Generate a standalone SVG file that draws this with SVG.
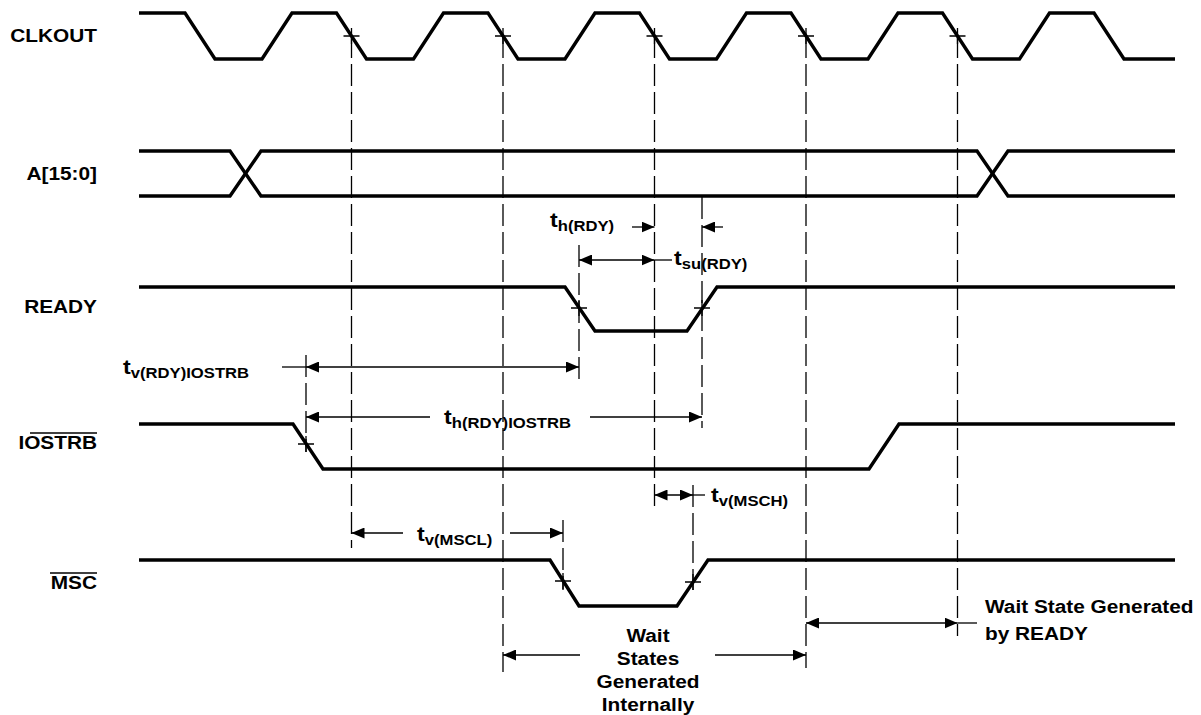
<svg xmlns="http://www.w3.org/2000/svg" width="1201" height="715" viewBox="0 0 1201 715">
  <defs>
    <marker id="ah" viewBox="0 0 13 11" refX="13" refY="5.5" markerWidth="13" markerHeight="11" markerUnits="userSpaceOnUse" orient="auto-start-reverse">
      <path d="M0,0 L13,5.5 L0,11 z" fill="#000"/>
    </marker>
  </defs>
  <style>
    .sig { fill: none; stroke: #000; stroke-width: 3.4; stroke-linejoin: miter; }
    .dash { fill: none; stroke: #000; stroke-width: 1.3; stroke-dasharray: 22 6; }
    .thin { fill: none; stroke: #000; stroke-width: 1.3; }
    .dim { fill: none; stroke: #000; stroke-width: 1.3; }
    .both { marker-start: url(#ah); marker-end: url(#ah); }
    .st { marker-start: url(#ah); }
    .en { marker-end: url(#ah); }
    text { font-family: "Liberation Sans", Arial, Helvetica, sans-serif; font-weight: bold; font-size: 17.5px; fill: #000; }
    .tm { font-size: 19.5px; }
    .sub { font-size: 14px; }
    .lbl { text-anchor: end; }
    .mid { text-anchor: middle; }
  </style>

  <rect width="1201" height="715" fill="#fff"/>

  <!-- signal names -->
  <g id="names">
    <text class="lbl" transform="translate(97,42) scale(1.19,1)">CLKOUT</text>
    <text class="lbl" transform="translate(97,180) scale(1.19,1)">A[15:0]</text>
    <text class="lbl" transform="translate(97,313) scale(1.19,1)">READY</text>
    <text class="lbl" transform="translate(97,449) scale(1.19,1)">IOSTRB</text>
    <line class="thin" x1="30" y1="433" x2="97" y2="433" stroke-width="1.5"/>
    <text class="lbl" transform="translate(97,589) scale(1.19,1)">MSC</text>
    <line class="thin" x1="50" y1="573" x2="97" y2="573" stroke-width="1.5"/>
  </g>

  <!-- waveforms -->
  <g id="clkout">
    <path class="sig" d="M139,13 H185 L215,59 H262 L292,13 H336.5 L366.5,59 H413.5 L443.5,13 H488 L518,59 H565 L595,13 H639.5 L669.5,59 H716.5 L746.5,13 H791 L821,59 H868 L898,13 H942.5 L972.5,59 H1019.5 L1049.5,13 H1094 L1124,59 H1175"/>
  </g>
  <g id="addr">
    <path class="sig" d="M139,151 H230 L261,196 H977 L1008,151 H1175"/>
    <path class="sig" d="M139,196 H230 L261,151 H977 L1008,196 H1175"/>
  </g>
  <g id="ready">
    <path class="sig" d="M139,287 H565 L595,331 H687 L717,287 H1175"/>
  </g>
  <g id="iostrb">
    <path class="sig" d="M139,424 H293 L323,469 H869 L899,424 H1175"/>
  </g>
  <g id="msc">
    <path class="sig" d="M139,560 H550 L579,606 H677 L708,560 H1175"/>
  </g>

  <!-- reference lines and dimension arrows -->
  <g id="connectors">
    <!-- vertical reference lines -->
    <line class="dash" x1="351.5" y1="36" x2="351.5" y2="548"/>
    <line class="dash" x1="503" y1="36" x2="503" y2="672"/>
    <line class="dash" x1="654.5" y1="36" x2="654.5" y2="508"/>
    <line class="dash" x1="806" y1="36" x2="806" y2="668"/>
    <line class="dash" x1="957.5" y1="36" x2="957.5" y2="636"/>
    <line class="dash" x1="579" y1="245" x2="579" y2="380"/>
    <line class="dash" x1="702" y1="197" x2="702" y2="428"/>
    <line class="dash" x1="306" y1="355" x2="306" y2="452"/>
    <line class="dash" x1="563" y1="520" x2="563" y2="590"/>
    <line class="dash" x1="693" y1="485" x2="693" y2="590"/>

    <!-- crossing marks -->
    <g class="thin">
      <path d="M343.5,36 h16 M351.5,28 v16"/>
      <path d="M495,36 h16 M503,28 v16"/>
      <path d="M646.5,36 h16 M654.5,28 v16"/>
      <path d="M798,36 h16 M806,28 v16"/>
      <path d="M949.5,36 h16 M957.5,28 v16"/>
      <path d="M571,308 h16 M579,300 v16"/>
      <path d="M694,308 h16 M702,300 v16"/>
      <path d="M298,444 h16 M306,436 v16"/>
      <path d="M555,581 h16 M563,573 v16"/>
      <path d="M685,582 h16 M693,574 v16"/>
    </g>

    <!-- t h(RDY) -->
    <line class="dim en" x1="632" y1="227" x2="654.5" y2="227"/>
    <line class="dim en" x1="723" y1="227" x2="702" y2="227"/>
    <!-- t su(RDY) -->
    <line class="dim both" x1="579" y1="260" x2="654.5" y2="260"/>
    <line class="dim" x1="654.5" y1="260" x2="672" y2="260"/>
    <!-- t v(RDY)IOSTRB -->
    <line class="dim both" x1="306" y1="367" x2="579" y2="367"/>
    <line class="dim" x1="282" y1="367" x2="306" y2="367"/>
    <!-- t h(RDY)IOSTRB -->
    <line class="dim st" x1="306" y1="417" x2="430" y2="417"/>
    <line class="dim en" x1="590" y1="417" x2="702" y2="417"/>
    <!-- t v(MSCH) -->
    <line class="dim both" x1="654.5" y1="495" x2="693" y2="495"/>
    <line class="dim" x1="693" y1="495" x2="705" y2="495"/>
    <!-- t v(MSCL) -->
    <line class="dim st" x1="351.5" y1="533" x2="403" y2="533"/>
    <line class="dim en" x1="510" y1="533" x2="563" y2="533"/>
    <!-- wait states generated internally -->
    <line class="dim st" x1="503" y1="655" x2="580" y2="655"/>
    <line class="dim en" x1="715" y1="655" x2="806" y2="655"/>
    <!-- wait state generated by READY -->
    <line class="dim both" x1="806" y1="623" x2="957.5" y2="623"/>
    <line class="dim" x1="957.5" y1="623" x2="977" y2="623"/>
  </g>

  <!-- timing labels -->
  <g id="labels">
    <text class="tm" transform="translate(550,227) scale(1.19,1)">t<tspan class="sub" dy="4">h(RDY)</tspan></text>
    <text class="tm" transform="translate(674,265) scale(1.19,1)">t<tspan class="sub" dy="4">su(RDY)</tspan></text>
    <text class="tm" transform="translate(123,374) scale(1.19,1)">t<tspan class="sub" dy="4">v(RDY)IOSTRB</tspan></text>
    <text class="tm" transform="translate(444,424) scale(1.19,1)">t<tspan class="sub" dy="4">h(RDY)IOSTRB</tspan></text>
    <text class="tm" transform="translate(711,502) scale(1.19,1)">t<tspan class="sub" dy="4">v(MSCH)</tspan></text>
    <text class="tm" transform="translate(417,541) scale(1.19,1)">t<tspan class="sub" dy="4">v(MSCL)</tspan></text>
    <text class="mid" transform="translate(648,642) scale(1.19,1)">Wait</text>
    <text class="mid" transform="translate(648,665) scale(1.19,1)">States</text>
    <text class="mid" transform="translate(648,688) scale(1.19,1)">Generated</text>
    <text class="mid" transform="translate(648,711) scale(1.19,1)">Internally</text>
    <text transform="translate(985,613) scale(1.19,1)">Wait State Generated</text>
    <text transform="translate(985,640) scale(1.19,1)">by READY</text>
  </g>
</svg>
